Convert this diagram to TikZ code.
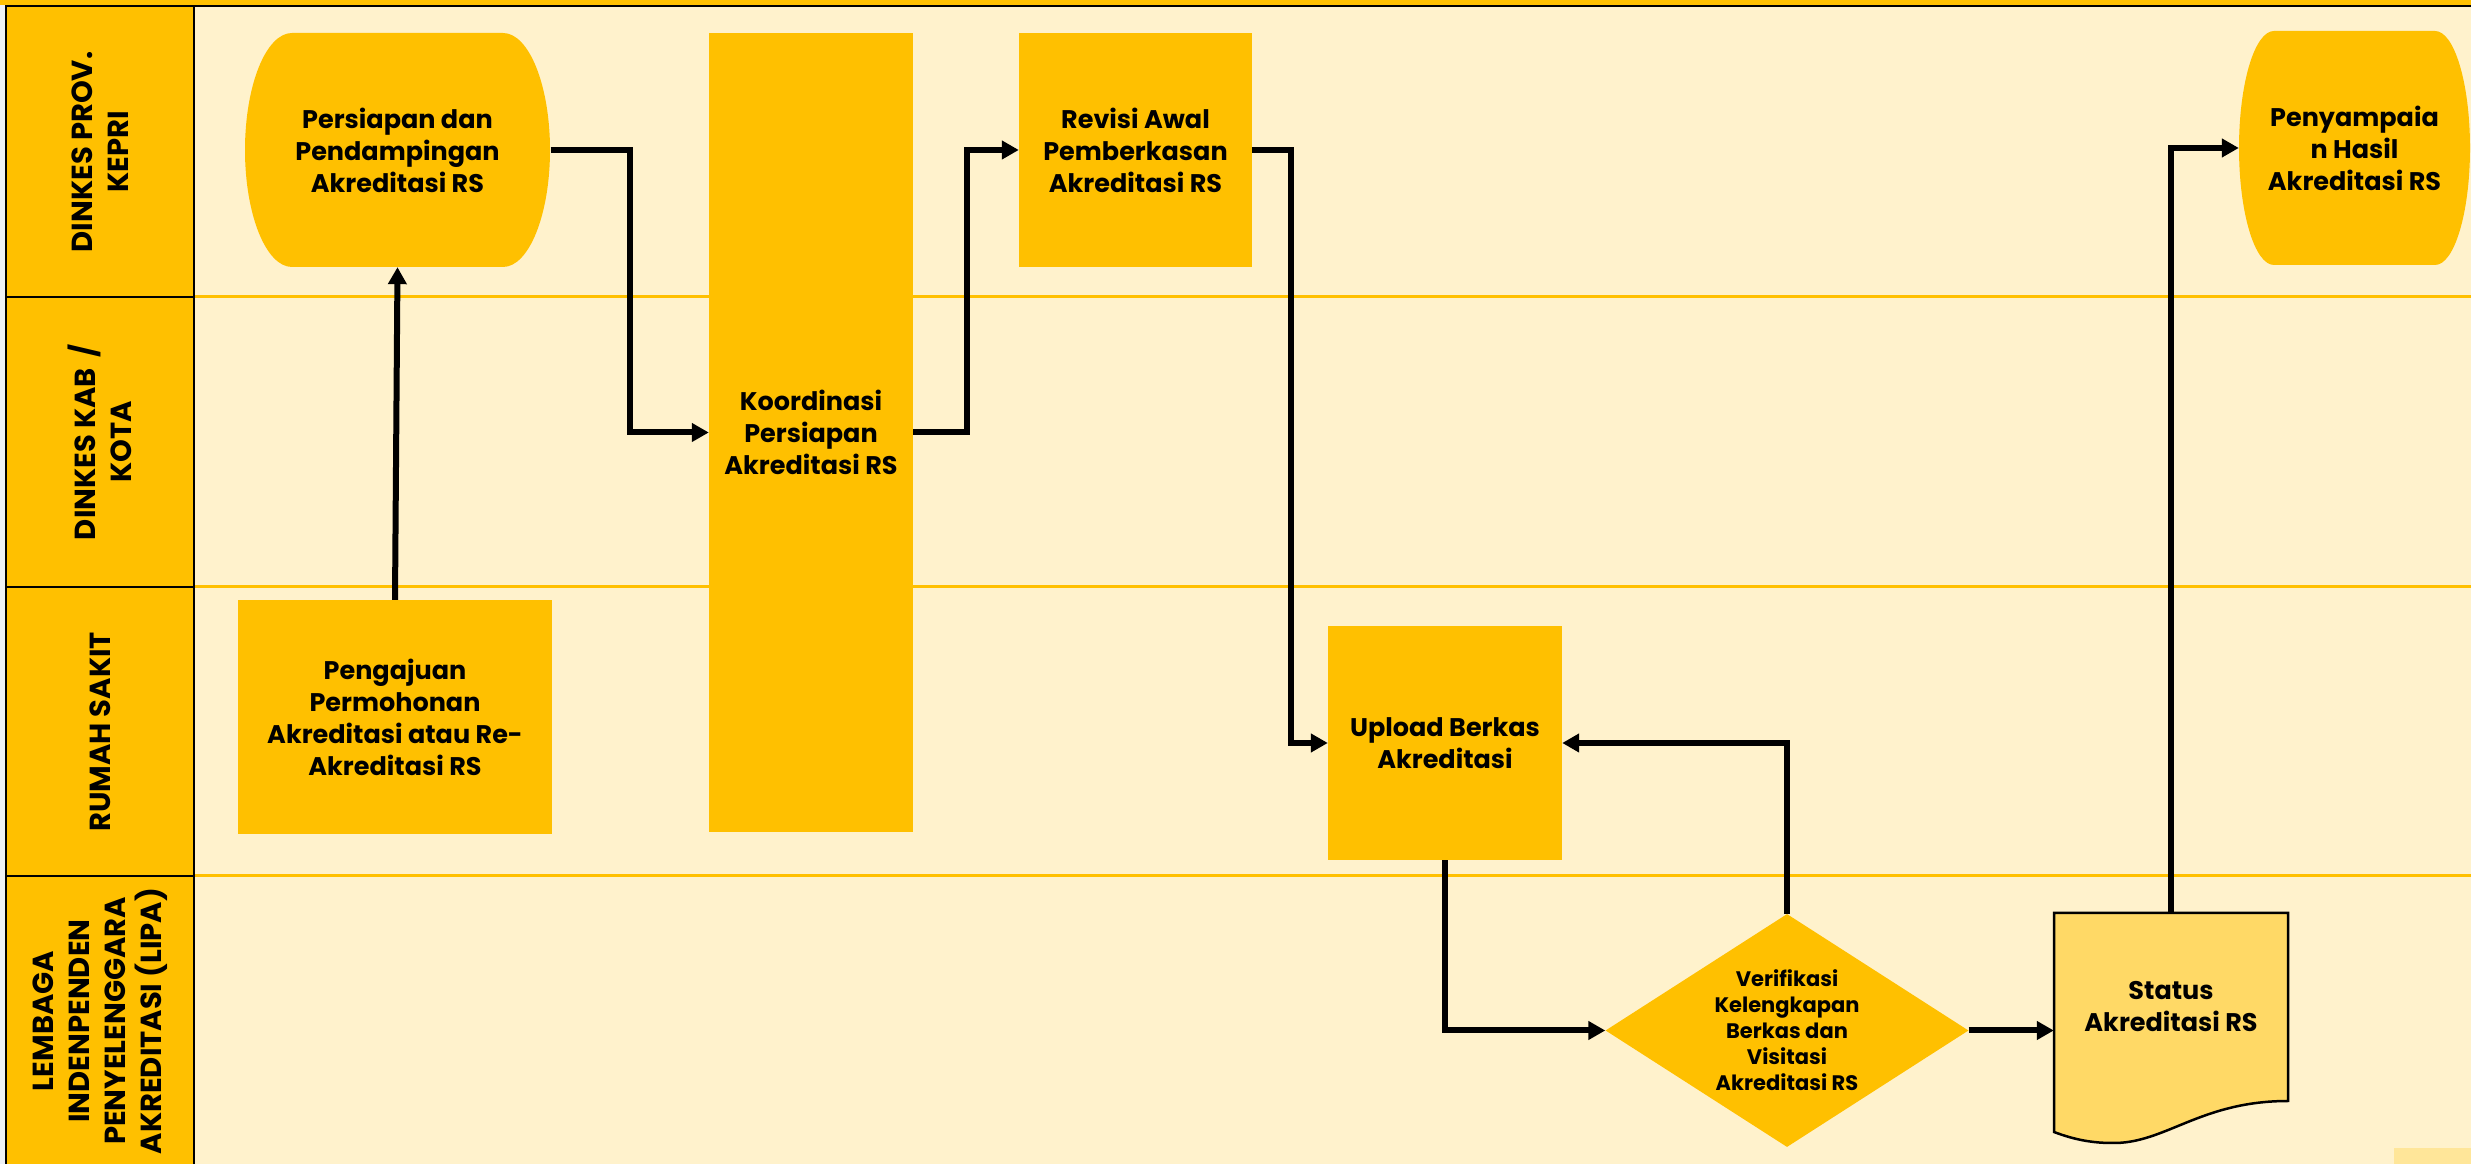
\documentclass[tikz,border=0pt]{standalone}
\usepackage{fontspec}
\setmainfont{Poppins}
\usetikzlibrary{arrows.meta,shapes.geometric}
\definecolor{ora}{HTML}{FFC000}
\definecolor{cream}{HTML}{FFF2CC}
\definecolor{docfill}{HTML}{FFD966}
\definecolor{paleband}{HTML}{FFE699}
\definecolor{edgegrey}{HTML}{EEF1F5}
\newcommand\pfont{\fontsize{25.5}{32}\selectfont\bfseries}
\newcommand\dfont{\fontsize{21}{26}\selectfont\bfseries}
\newcommand\lfont{\fontsize{29}{36}\selectfont\bfseries}
\tikzset{
  proc/.style={fill=ora, inner sep=0pt, align=center, font=\pfont, text=black},
  txtbox/.style={inner sep=0pt, align=center, font=\pfont, text=black},
  lanelbl/.style={rotate=90, align=center, font=\lfont, text=black, inner sep=0pt},
  conn/.style={line width=6pt, -{Triangle[length=17pt,width=18pt]}, black},
  lanesep/.style={ora, line width=3pt},
  blackline/.style={black, line width=2.5pt}
}
\begin{document}
\begin{tikzpicture}[x=1pt,y=1pt]
\useasboundingbox (0,0) rectangle (2471,1164);
% backgrounds
\fill[cream] (0,0) rectangle (2471,1164);
\fill[edgegrey] (0,0) rectangle (5,1164);
\fill[ora] (0,1159) rectangle (2471,1164);
\fill[ora] (6,0) rectangle (194,1158);
\fill[paleband] (2394,0) rectangle (2471,16);
% lane separators
\draw[lanesep] (194,867) -- (2471,867);
\draw[lanesep] (194,577) -- (2471,577);
\draw[lanesep] (194,288) -- (2471,288);
% label column borders
\draw[blackline] (6,0) -- (6,1158) -- (2471,1158);
\draw[blackline] (194,0) -- (194,1158);
\draw[blackline] (6,867) -- (194,867);
\draw[blackline] (6,577) -- (194,577);
\draw[blackline] (6,288) -- (194,288);
% lane labels
\node[lanelbl] (lab1) at (100,1012) {DINKES PROV.\\KEPRI};
\node[lanelbl] (lab2) at (100,722) {DINKES KAB \,/\\KOTA};
\node[lanelbl] (lab3) at (100,432) {RUMAH SAKIT};
\node[lanelbl] (lab4) at (100,143) {LEMBAGA\\INDENPENDEN\\PENYELENGGARA\\AKREDITASI (LIPA)};
% terminal shapes
\fill[ora] (292,1131) -- (503,1131) arc[start angle=90,end angle=-90,x radius=47pt,y radius=117pt]
  -- (292,897) arc[start angle=270,end angle=90,x radius=47pt,y radius=117pt] -- cycle;
\node[txtbox, minimum width=306pt, minimum height=234pt] (pers) at (397.5,1014) {Persiapan dan\\Pendampingan\\Akreditasi RS};
\fill[ora] (2274,1133) -- (2435,1133) arc[start angle=90,end angle=-90,x radius=35pt,y radius=117pt]
  -- (2274,899) arc[start angle=270,end angle=90,x radius=35pt,y radius=117pt] -- cycle;
\node[txtbox, minimum width=231pt, minimum height=234pt] (pen) at (2354.5,1016) {Penyampaia\\n Hasil\\Akreditasi RS};
% process boxes
\node[proc, minimum width=204pt, minimum height=799pt] (koor) at (811,731.5) {Koordinasi\\Persiapan\\Akreditasi RS};
\node[proc, minimum width=233pt, minimum height=234pt] (rev) at (1135.5,1014) {Revisi Awal\\Pemberkasan\\Akreditasi RS};
\node[proc, minimum width=314pt, minimum height=234pt] (peng) at (395,447) {Pengajuan\\Permohonan\\Akreditasi atau Re-\\Akreditasi RS};
\node[proc, minimum width=234pt, minimum height=234pt] (upl) at (1445,421) {Upload Berkas\\Akreditasi};
% decision
\node[diamond, fill=ora, inner sep=0pt, align=center, font=\dfont, aspect=1.56,
      minimum width=363pt, minimum height=233pt] (ver) at (1787,133.5)
      {Verifikasi\\Kelengkapan\\Berkas dan\\Visitasi\\Akreditasi RS};
% document
\filldraw[fill=docfill, draw=black, line width=2.5pt]
  (2054,251) -- (2288,251) -- (2288,63)
  .. controls (2200,63) and (2165,20) .. (2112,21)
  .. controls (2088,21) and (2070,26) .. (2054,32) -- cycle;
\node[txtbox, minimum width=234pt, minimum height=188pt] (stat) at (2171,157) {Status\\Akreditasi RS};
% connectors
\draw[conn] (peng.north) -- (pers.south);
\draw[conn] (pers.east) -- ++(79,0) |- (koor.west);
\draw[conn] (koor.east) -- ++(54,0) |- (rev.west);
\draw[conn] (rev.east) -- ++(39,0) |- (upl.west);
\draw[conn] (upl.south) |- (ver.west);
\draw[conn] (ver.north) |- (upl.east);
\draw[conn] (ver.east) -- (ver.east -| stat.west);
\draw[conn] (stat.north) |- (pen.west);
\end{tikzpicture}
\end{document}
